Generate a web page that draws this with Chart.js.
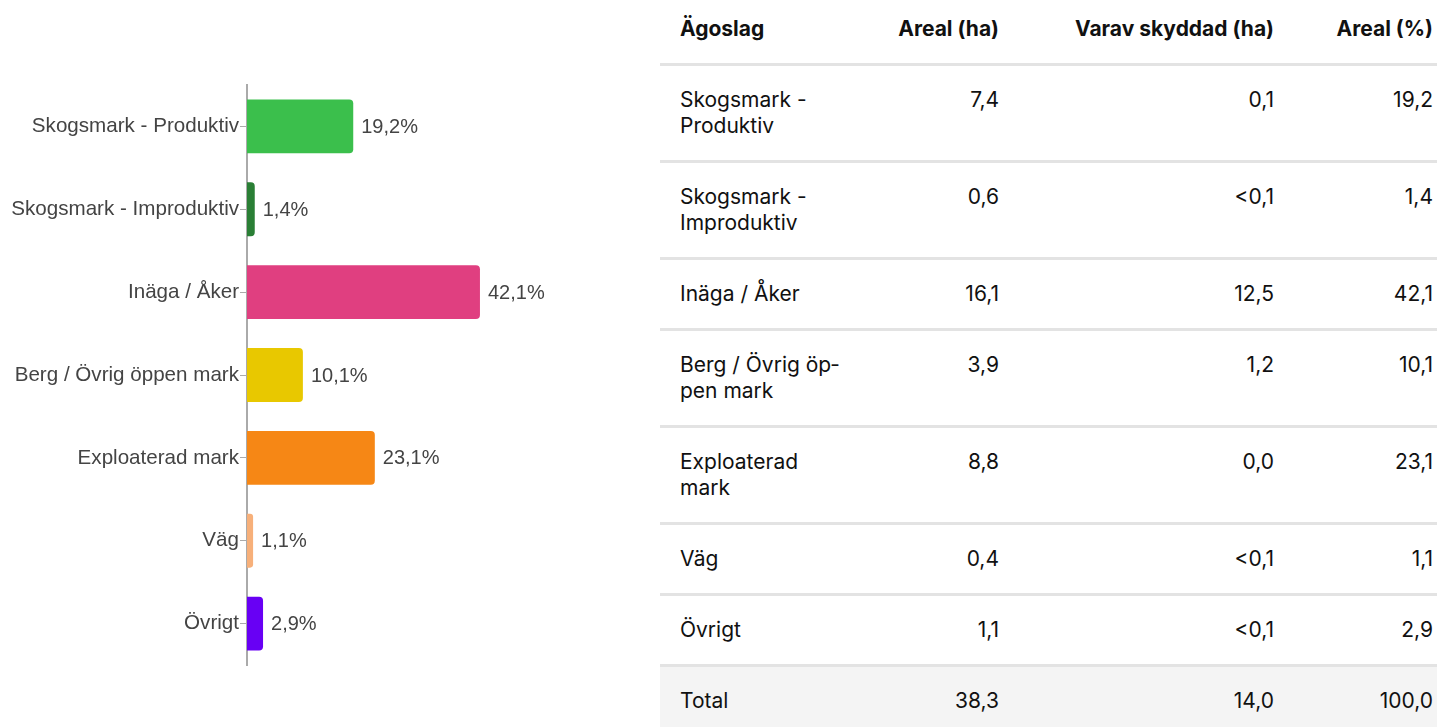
<!DOCTYPE html>
<html lang="sv">
<head>
<meta charset="utf-8">
<script src="https://cdn.jsdelivr.net/npm/chart.js@4"></script>
<style>
  body { margin: 0; background: #fff; width: 1437px; height: 727px; overflow: hidden; position: relative; }
  #chart-wrap { position: absolute; left: 0; top: 0; width: 620px; height: 727px; }
  #tbl {
    position: absolute; left: 660px; top: 0; width: 777px;
    border-collapse: collapse; table-layout: fixed;
    font-family: Inter, "Noto Sans", sans-serif; font-size: 21px; line-height: 26px; color: #111;
  }
  #tbl th, #tbl td { border-bottom: 3px solid #e3e3e3; vertical-align: top; padding: 21px 20px 21px 20px; }
  #tbl th { font-weight: 700; padding-top: 16px; padding-bottom: 21px; }
  #tbl .c0 { text-align: left; padding-right: 14px; }
  #tbl .num { text-align: right; padding-left: 0; }
  #tbl .last { padding-right: 4px; }
  #tbl tr.total td { background: #f4f4f4; border-bottom: none; }
</style>
</head>
<body>
<div id="chart-wrap"><canvas id="bars"></canvas></div>
<table id="tbl">
  <colgroup><col style="width:200px"><col style="width:159px"><col style="width:275px"><col style="width:143px"></colgroup>
  <thead></thead>
  <tbody></tbody>
</table>
<script>
// chart data
var categories = ['Skogsmark - Produktiv', 'Skogsmark - Improduktiv', 'Inäga / Åker', 'Berg / Övrig öppen mark', 'Exploaterad mark', 'Väg', 'Övrigt'];
var percentValues = [19.2, 1.4, 42.1, 10.1, 23.1, 1.1, 2.9];
var barColors = ['#3bbf4c', '#2a7f35', '#e03f80', '#e8c800', '#f68715', '#f7b07a', '#6800f4'];

// table data
var tableHeaders = ['Ägoslag', 'Areal (ha)', 'Varav skyddad (ha)', 'Areal (%)'];
var tableNames = ['Skogsmark - Produktiv', 'Skogsmark - Improduktiv', 'Inäga / Åker', 'Berg / Övrig öp\u00ADpen mark', 'Exploaterad mark', 'Väg', 'Övrigt'];
var arealHa = ['7,4', '0,6', '16,1', '3,9', '8,8', '0,4', '1,1'];
var skyddadHa = ['0,1', '<0,1', '12,5', '1,2', '0,0', '<0,1', '<0,1'];
var arealPct = ['19,2', '1,4', '42,1', '10,1', '23,1', '1,1', '2,9'];
var totalRow = ['Total', '38,3', '14,0', '100,0'];

// build table
function makeRow(cells, tag) {
  var tr = document.createElement('tr');
  cells.forEach(function (txt, i) {
    var c = document.createElement(tag);
    c.textContent = txt;
    c.className = i === 0 ? 'c0' : 'num' + (i === 3 ? ' last' : '');
    tr.appendChild(c);
  });
  return tr;
}
document.querySelector('#tbl thead').appendChild(makeRow(tableHeaders, 'th'));
var tbody = document.querySelector('#tbl tbody');
tableNames.forEach(function (name, i) {
  tbody.appendChild(makeRow([name, arealHa[i], skyddadHa[i], arealPct[i]], 'td'));
});
var tot = makeRow(totalRow, 'td');
tot.className = 'total';
tbody.appendChild(tot);

// value labels at the end of each bar
var valueLabels = {
  id: 'valueLabels',
  afterDatasetsDraw: function (chart) {
    var ctx = chart.ctx;
    var meta = chart.getDatasetMeta(0);
    ctx.save();
    ctx.font = '20px "Liberation Sans", Arial, sans-serif';
    ctx.fillStyle = '#444';
    ctx.textAlign = 'left';
    ctx.textBaseline = 'middle';
    meta.data.forEach(function (bar, i) {
      var txt = percentValues[i].toFixed(1).replace('.', ',') + '%';
      ctx.fillText(txt, bar.x + 8, bar.y + 1);
    });
    ctx.restore();
  }
};

var ctx = document.getElementById('bars').getContext('2d');
var barChart = new Chart(ctx, {
  type: 'bar',
  data: {
    labels: categories,
    datasets: [
      {
        data: percentValues,
        backgroundColor: barColors,
        borderRadius: 4,
        borderSkipped: 'start',
        barPercentage: 0.65,
        categoryPercentage: 1,
      },
    ],
  },
  options: {
    indexAxis: 'y',
    responsive: true,
    maintainAspectRatio: false,
    animation: false,
    layout: { padding: { top: 85, bottom: 62, left: 0, right: 41 } },
    plugins: {
      legend: { display: false },
      tooltip: { enabled: false },
    },
    scales: {
      x: {
        display: false,
        min: 0,
        max: 60,
      },
      y: {
        afterFit: function (scale) { scale.width = 247; },
        border: { display: true, color: '#aaa', width: 2 },
        grid: { drawOnChartArea: false, drawTicks: true, tickLength: 7, color: '#aaa', offset: false },
        ticks: {
          color: '#444',
          padding: 1,
          font: { family: '"Liberation Sans", Arial, sans-serif', size: 20.6 },
        },
      },
    },
  },
  plugins: [valueLabels],
});
</script>
</body>
</html>
